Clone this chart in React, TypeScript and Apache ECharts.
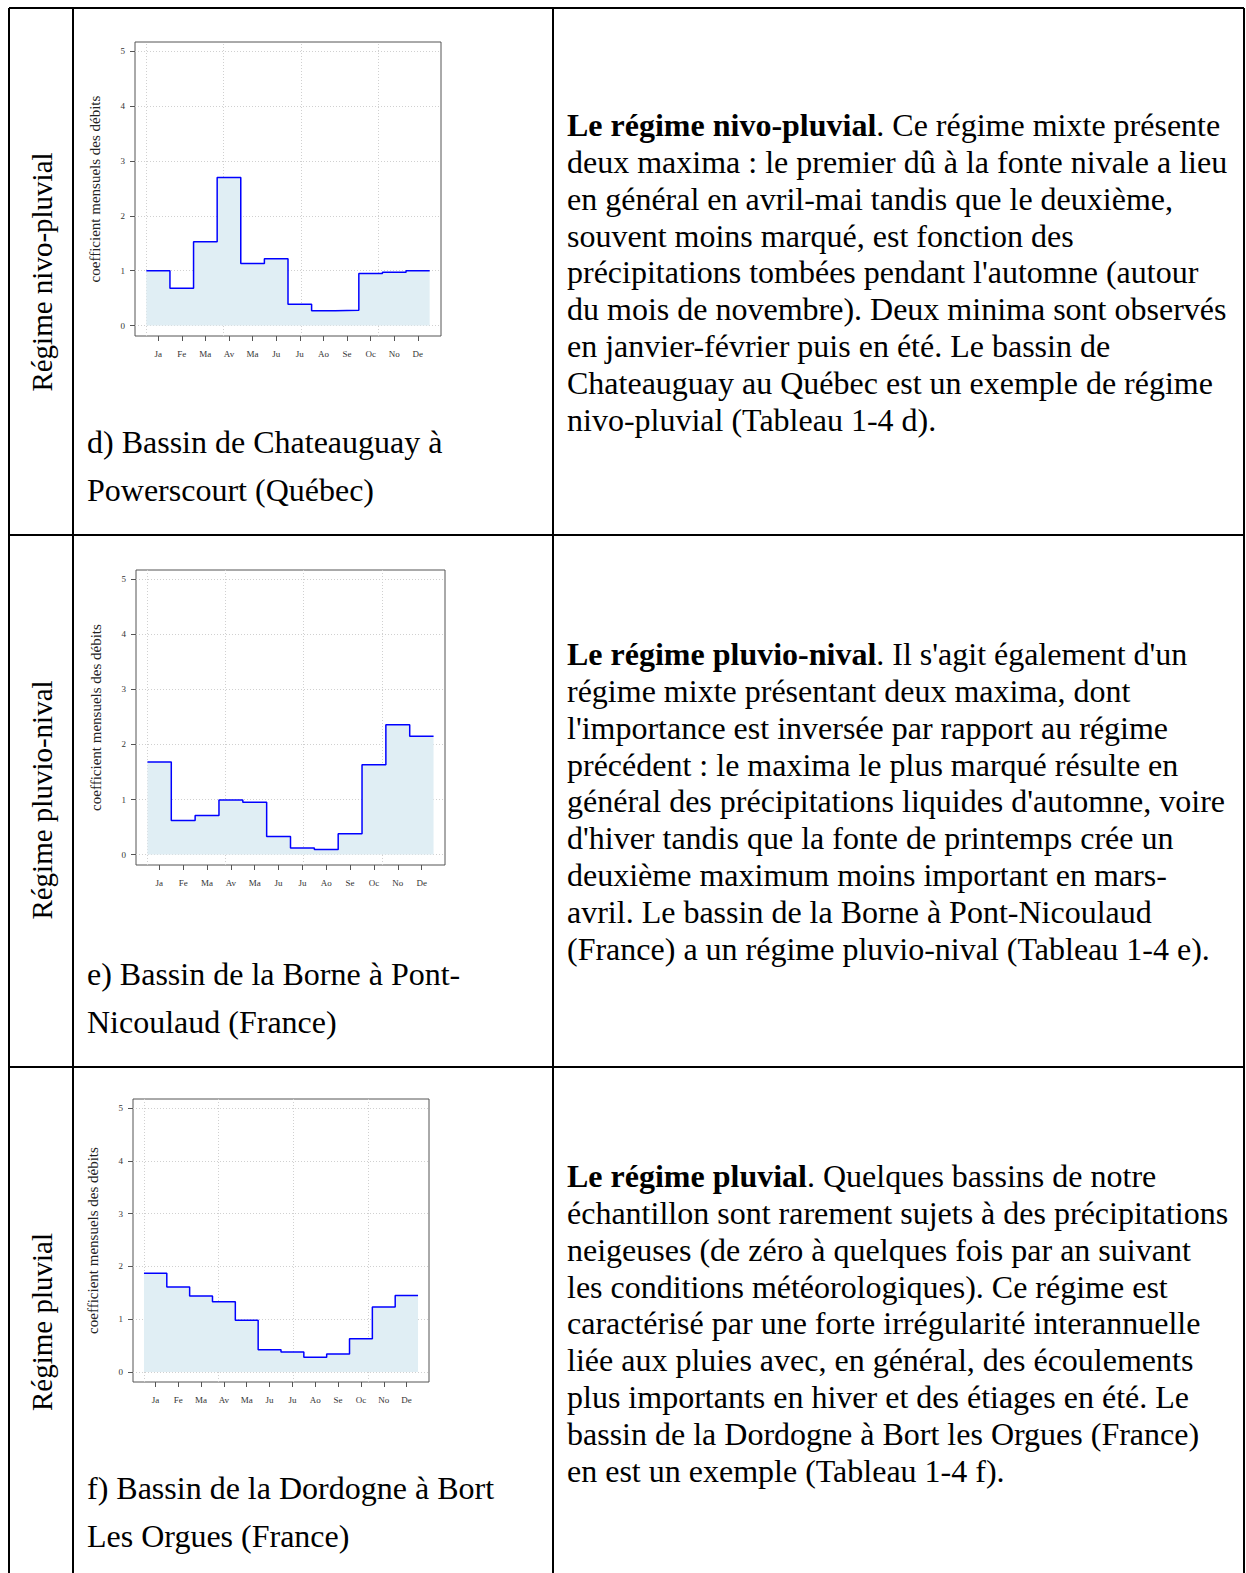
import React, { useEffect, useRef } from 'react';
import * as echarts from 'echarts';

// ---------- data ----------
const months = ['Ja', 'Fe', 'Ma', 'Av', 'Ma', 'Ju', 'Ju', 'Ao', 'Se', 'Oc', 'No', 'De'];
const monthPos = [1, 2, 3, 4, 5, 6, 7, 8, 9, 10, 11, 12];
const yTicks = [0, 1, 2, 3, 4, 5];
const vGridLines = [0.5, 3.77, 7.05, 10.33];

const chateauguay = [1.0, 0.68, 1.53, 2.7, 1.13, 1.22, 0.39, 0.27, 0.28, 0.95, 0.97, 1.0];
const borne = [1.68, 0.62, 0.71, 0.99, 0.95, 0.33, 0.12, 0.09, 0.38, 1.63, 2.36, 2.15];
const dordogne = [1.87, 1.61, 1.44, 1.33, 0.98, 0.42, 0.38, 0.28, 0.34, 0.63, 1.23, 1.45];

const axisName = 'coefficient mensuels des débits';

const rowLabels = ['Régime nivo-pluvial', 'Régime pluvio-nival', 'Régime pluvial'];
const captions = [
  ['d) Bassin de Chateauguay à', 'Powerscourt (Québec)'],
  ['e) Bassin de la Borne à Pont-', 'Nicoulaud (France)'],
  ['f) Bassin de la Dordogne à Bort', 'Les Orgues (France)'],
];
const boldHeads = ['Le régime nivo-pluvial', 'Le régime pluvio-nival', 'Le régime pluvial'];
const bodyLines = [
  [
    '. Ce régime mixte présente',
    'deux maxima : le premier dû à la fonte nivale a lieu',
    'en général en avril-mai tandis que le deuxième,',
    'souvent moins marqué, est fonction des',
    "précipitations tombées pendant l'automne (autour",
    'du mois de novembre). Deux minima sont observés',
    'en janvier-février puis en été. Le bassin de',
    'Chateauguay au Québec est un exemple de régime',
    'nivo-pluvial (Tableau 1-4 d).',
  ],
  [
    ". Il s'agit également d'un",
    'régime mixte présentant deux maxima, dont',
    "l'importance est inversée par rapport au régime",
    'précédent : le maxima le plus marqué résulte en',
    "général des précipitations liquides d'automne, voire",
    "d'hiver tandis que la fonte de printemps crée un",
    'deuxième maximum moins important en mars-',
    'avril. Le bassin de la Borne à Pont-Nicoulaud',
    '(France) a un régime pluvio-nival (Tableau 1-4 e).',
  ],
  [
    '. Quelques bassins de notre',
    'échantillon sont rarement sujets à des précipitations',
    'neigeuses (de zéro à quelques fois par an suivant',
    'les conditions météorologiques). Ce régime est',
    'caractérisé par une forte irrégularité interannuelle',
    'liée aux pluies avec, en général, des écoulements',
    'plus importants en hiver et des étiages en été. Le',
    'bassin de la Dordogne à Bort les Orgues (France)',
    'en est un exemple (Tableau 1-4 f).',
  ],
];

// ---------- layout ----------
const W = 1246;
const H = 1573;
const FONT = "'Liberation Serif', 'Times New Roman', serif";
const tableLeft = 9;
const tableRight = 1244;
const tableTop = 8;
const colLines = [73, 553];
const rowLines = [535, 1067];
const labelCenters = [272, 800, 1322];
const captionY = [442, 974, 1488];
const captionGap = 48.2;
const bodyY = [125, 654, 1176];
const bodyGap = 36.85;
const chartBoxes = [
  { left: 135, top: 42, width: 306, height: 294 },
  { left: 136, top: 570, width: 309, height: 295 },
  { left: 133, top: 1099, width: 296, height: 283 },
];
const seriesValues = [chateauguay, borne, dordogne];

function stepData(vals: number[]) {
  const pts = vals.map((v, i) => [monthPos[i] - 0.5, v]);
  pts.push([monthPos[monthPos.length - 1] + 0.5, vals[vals.length - 1]]);
  return pts;
}

export default function App() {
  const ref = useRef<HTMLDivElement>(null);
  useEffect(() => {
    document.body.style.margin = '0';
    document.body.style.overflow = 'hidden';
    const chart = echarts.init(ref.current!, null, { renderer: 'svg' });

    const grids = chartBoxes.map((b) => ({
      ...b,
      show: true,
      borderColor: '#555',
      borderWidth: 1,
      backgroundColor: 'transparent',
      containLabel: false,
    }));
    const xAxes = chartBoxes.map((_, i) => ({
      type: 'value',
      gridIndex: i,
      position: 'bottom',
      min: 0.02,
      max: 12.98,
      axisLine: { show: false, onZero: false },
      splitLine: { show: false },
      axisTick: { show: true, inside: false, length: 5, customValues: monthPos, lineStyle: { color: '#555' } },
      axisLabel: {
        show: true,
        customValues: monthPos,
        margin: 13,
        fontFamily: FONT,
        fontSize: 9,
        color: '#333',
        formatter: (v: number) => months[Math.round(v) - 1] ?? '',
      },
    }));
    const yAxes = chartBoxes.map((_, i) => ({
      type: 'value',
      gridIndex: i,
      position: 'left',
      min: -0.19,
      max: 5.17,
      name: axisName,
      nameLocation: 'middle',
      nameRotate: 90,
      nameGap: 33,
      nameTextStyle: { fontFamily: FONT, fontSize: 15, color: '#222' },
      axisLine: { show: false, onZero: false },
      splitLine: { show: false },
      axisTick: { show: true, inside: false, length: 5, customValues: yTicks, lineStyle: { color: '#555' } },
      axisLabel: {
        show: true,
        customValues: yTicks,
        margin: 10,
        fontFamily: FONT,
        fontSize: 9,
        color: '#333',
      },
    }));

    const series: any[] = [];
    seriesValues.forEach((vals, i) => {
      series.push({
        type: 'line',
        xAxisIndex: i,
        yAxisIndex: i,
        data: [],
        z: 1,
        silent: true,
        markLine: {
          z: 0,
          silent: true,
          symbol: 'none',
          label: { show: false },
          lineStyle: { type: [1, 2], color: '#d0d0d0', width: 1 },
          data: [
            ...vGridLines.map((x) => ({ xAxis: x })),
            ...yTicks.map((y) => ({ yAxis: y })),
          ],
        },
      });
      series.push({
        type: 'line',
        xAxisIndex: i,
        yAxisIndex: i,
        step: 'end',
        showSymbol: false,
        z: 3,
        data: stepData(vals),
        lineStyle: { color: '#0000ff', width: 1.5 },
        areaStyle: { color: '#e0eef4', opacity: 1, origin: 0 },
      });
    });

    const graphics: any[] = [];
    const lw = 2;
    graphics.push({ type: 'line', shape: { x1: tableLeft, y1: tableTop, x2: tableRight, y2: tableTop }, style: { stroke: '#000', lineWidth: lw } });
    [tableLeft, ...colLines, tableRight].forEach((x) =>
      graphics.push({ type: 'line', shape: { x1: x, y1: tableTop, x2: x, y2: H }, style: { stroke: '#000', lineWidth: lw } })
    );
    rowLines.forEach((y) =>
      graphics.push({ type: 'line', shape: { x1: tableLeft, y1: y, x2: tableRight, y2: y }, style: { stroke: '#000', lineWidth: lw } })
    );

    rowLabels.forEach((t, i) => {
      graphics.push({
        type: 'text',
        x: 42,
        y: labelCenters[i],
        rotation: Math.PI / 2,
        style: { text: t, fontFamily: FONT, fontSize: 29, fill: '#000', align: 'center', verticalAlign: 'middle' },
      });
    });

    captions.forEach((lines, i) => {
      lines.forEach((t, j) => {
        graphics.push({
          type: 'text',
          x: 87,
          y: captionY[i] + j * captionGap,
          style: { text: t, fontFamily: FONT, fontSize: 32, fill: '#000', align: 'left', verticalAlign: 'middle' },
        });
      });
    });

    bodyLines.forEach((lines, i) => {
      lines.forEach((t, j) => {
        const text = j === 0 ? `{b|${boldHeads[i]}}{r|${t}}` : t;
        graphics.push({
          type: 'text',
          x: 567,
          y: bodyY[i] + j * bodyGap,
          style: {
            text,
            fontFamily: FONT,
            fontSize: 32,
            fill: '#000',
            align: 'left',
            verticalAlign: 'middle',
            rich: {
              b: { fontFamily: FONT, fontSize: 32, fontWeight: 'bold', fill: '#000' },
              r: { fontFamily: FONT, fontSize: 32, fill: '#000' },
            },
          },
        });
      });
    });

    chart.setOption({
      animation: false,
      backgroundColor: '#fff',
      grid: grids,
      xAxis: xAxes,
      yAxis: yAxes,
      series,
      graphic: { elements: graphics },
    });
    return () => chart.dispose();
  }, []);
  return <div ref={ref} style={{ width: W, height: H }} />;
}
